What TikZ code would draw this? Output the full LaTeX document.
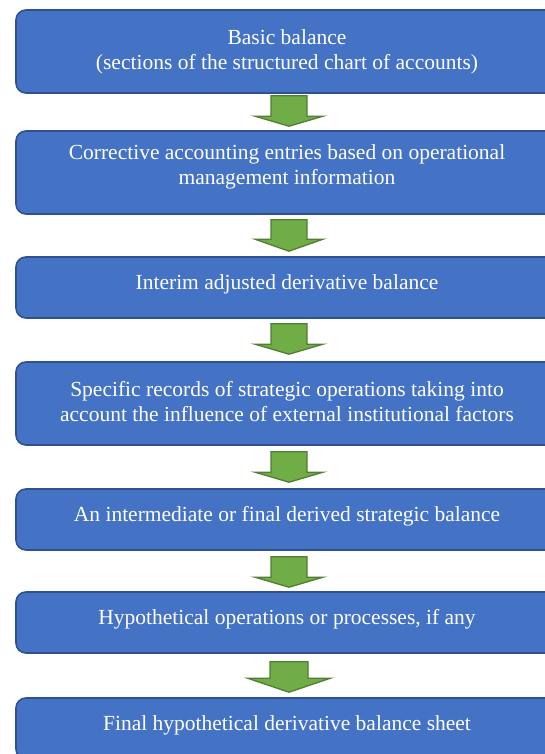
\documentclass[tikz,border=0pt]{standalone}
\usepackage{fontspec}
\setmainfont{Liberation Serif}
\usetikzlibrary{calc}
\definecolor{boxfill}{HTML}{4472C4}
\definecolor{boxline}{HTML}{2F528F}
\definecolor{arrfill}{HTML}{70AD47}
\definecolor{arrline}{HTML}{507E32}
\newcommand\blockarr[7]{%
  \draw[arrowshape] let \p1=($(#1.south)+(2,0)$), \p2=(#2.north) in
    (\x1-#6pt,\y1-#3pt) -- (\x1+#6pt,\y1-#3pt) -- (\x1+#6pt,\y2+#4pt+#5pt)
    -- (\x1+#7pt,\y2+#4pt+#5pt) -- (\x1,\y2+#4pt) -- (\x1-#7pt,\y2+#4pt+#5pt)
    -- (\x1-#6pt,\y2+#4pt+#5pt) -- cycle;}
\begin{document}
\begin{tikzpicture}[x=1pt,y=-1pt,
  stepbox/.style={draw=boxline, fill=boxfill, line width=1.6pt, rounded corners=10pt,
    text=white, font=\fontsize{21.5}{25}\selectfont, align=center,
    minimum width=542pt, inner sep=0pt},
  oneline/.style={minimum height=61pt, text height=14pt, text depth=11pt},
  twoline/.style={minimum height=83pt, text height=39pt, text depth=#1},
  twoline/.default=2pt,
  arrowshape/.style={draw=arrline, fill=arrfill, line width=1.3pt, line join=miter}]
\useasboundingbox (0,0) rectangle (545,754);
\clip (0,0) rectangle (545,754);
\node[stepbox, twoline] (b1) at (287,51.5) {Basic balance\\(sections of the structured chart of accounts)};
\node[stepbox, twoline=15pt] (b2) at (287,172.5) {Corrective accounting entries based on operational\\management information};
\node[stepbox, oneline] (b3) at (287,287.5) {Interim adjusted derivative balance};
\node[stepbox, twoline=4pt] (b4) at (287,403.5) {Specific records of strategic operations taking into\\account the influence of external institutional factors};
\node[stepbox, oneline] (b5) at (287,519.5) {An intermediate or final derived strategic balance};
\node[stepbox, oneline] (b6) at (287,622.5) {Hypothetical operations or processes, if any};
\node[stepbox, oneline] (b7) at (287,728.5) {Final hypothetical derivative balance sheet};
\blockarr{b1}{b2}{2}{4}{10}{18}{34}
\blockarr{b2}{b3}{5}{5}{12}{18}{34}
\blockarr{b3}{b4}{5}{7}{10}{18}{34}
\blockarr{b4}{b5}{6}{6}{10}{18}{34}
\blockarr{b5}{b6}{6}{4}{10}{18}{34}
\blockarr{b6}{b7}{8}{5}{14}{19}{41.5}
\end{tikzpicture}
\end{document}
